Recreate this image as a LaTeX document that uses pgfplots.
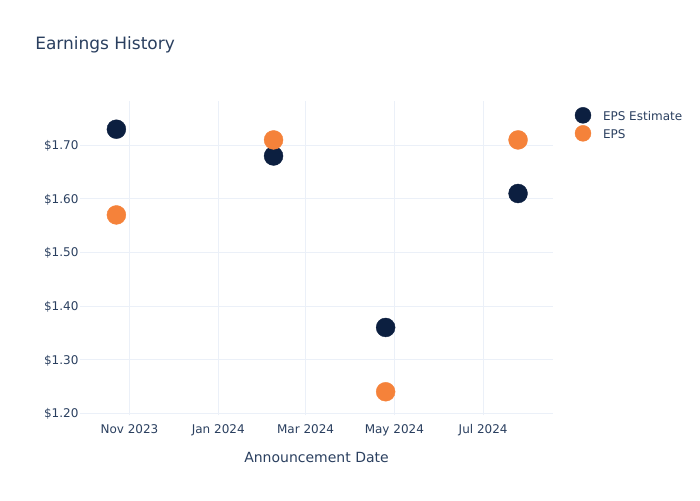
\documentclass[border=0pt]{standalone}
\usepackage{pgfplots}
\pgfplotsset{compat=1.18}
\usepackage{fontspec}
\setmainfont{DejaVu Sans}
\definecolor{txt}{HTML}{2A3F5F}
\definecolor{navy}{HTML}{0C1F40}
\definecolor{orng}{HTML}{F5823A}
\definecolor{gridc}{HTML}{EBF0F8}
\begin{document}
\begin{tikzpicture}
\path[use as bounding box] (-60pt,-63.5pt) rectangle (465pt,311.5pt);
\begin{axis}[
  scale only axis,
  width=354.75pt, height=235.5pt,
  xmin=-95, xmax=230,
  ymin=1.196, ymax=1.782,
  axis line style={draw=none},
  major tick length=0pt,
  grid=major,
  grid style={color=gridc, line width=0.75pt},
  xtick={-61,0,60,121,182},
  xticklabels={Nov 2023,Jan 2024,Mar 2024,May 2024,Jul 2024},
  ytick={1.2,1.3,1.4,1.5,1.6,1.7},
  yticklabels={\$1.20,\$1.30,\$1.40,\$1.50,\$1.60,\$1.70},
  tick label style={font=\fontsize{9}{11}\selectfont, text=txt},
  xticklabel style={anchor=base, yshift=-13.9pt},
  yticklabel style={anchor=east, inner sep=0pt, xshift=-1pt, text height=6.6pt, text depth=0pt},
  xlabel={Announcement Date},
  xlabel style={at={(axis description cs:0.5,0)}, anchor=base, yshift=-35.25pt, font=\fontsize{10.5}{12}\selectfont, text=txt},
  legend style={at={(axis description cs:1,1)}, anchor=north west, xshift=16.5pt, yshift=-4.5pt,
    draw=none, fill=none, inner sep=0pt, outer sep=0pt, row sep=1.5pt, column sep=0pt,
    font=\fontsize{9}{11}\selectfont, text=txt,
    nodes={inner sep=0pt, outer sep=0pt}},
  legend cell align=left,
  legend image code/.code={\draw[mark size=6pt] plot coordinates {(6pt,1.05pt)}; \path[draw=none] (0pt,1.05pt) -- (21pt,1.05pt);},
  clip=false,
]
\addplot[only marks, mark=*, mark size=7.1pt, color=navy, mark options={fill=navy, draw=navy, line width=0.3pt}]
  coordinates {(-70,1.73) (38,1.68) (115,1.36) (206,1.61)};
\addlegendentry{EPS Estimate}
\addplot[only marks, mark=*, mark size=7.1pt, color=orng, mark options={fill=orng, draw=orng, line width=0.3pt}]
  coordinates {(-70,1.57) (38,1.71) (115,1.24) (206,1.71)};
\addlegendentry{EPS}
\end{axis}
\node[anchor=west, inner sep=0pt, text=txt, font=\fontsize{12.75}{15}\selectfont] at (-33.75pt,278pt) {Earnings History};
\end{tikzpicture}
\end{document}
